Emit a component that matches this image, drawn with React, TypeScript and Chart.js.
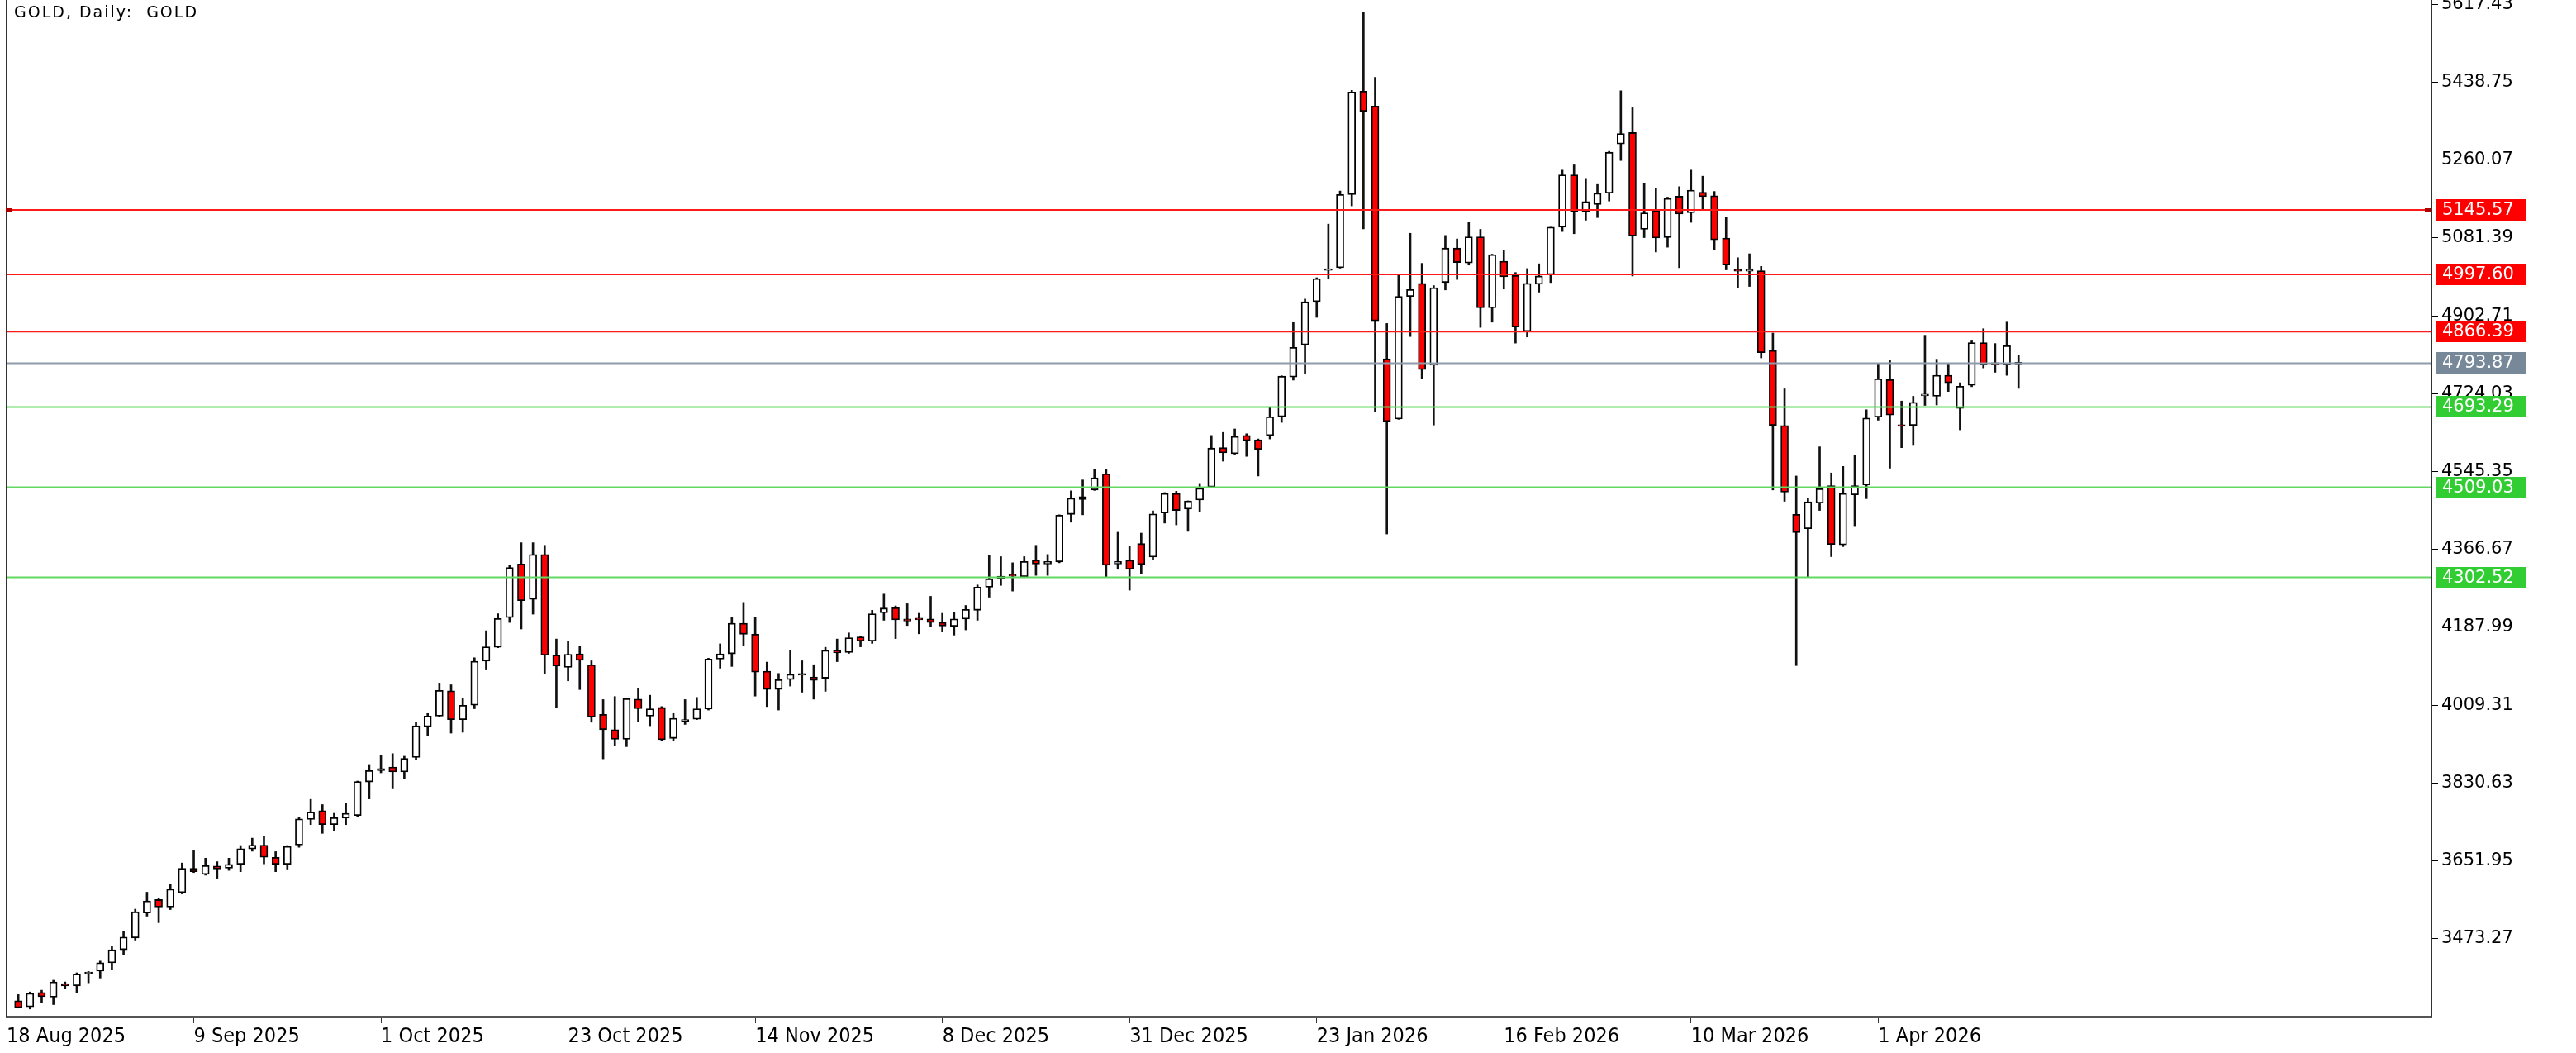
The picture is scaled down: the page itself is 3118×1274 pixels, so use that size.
import { useEffect, useRef } from 'react';
import { Chart, registerables } from 'chart.js';

Chart.register(...registerables);

// Daily candles, 19 Aug 2025 (bar 1) .. 17 Apr 2026 (bar 172); bar 0 = 18 Aug 2025 at the left edge
const opens = [
  3331, 3317, 3350, 3339, 3370, 3365, 3393, 3399, 3418, 3448,
  3475, 3532, 3563, 3546, 3579, 3635, 3621, 3640, 3635, 3644,
  3679, 3688, 3660, 3644, 3688, 3747, 3767, 3735, 3750, 3756,
  3833, 3859, 3867, 3856, 3889, 3960, 3984, 4042, 3976, 4009,
  4110, 4142, 4210, 4333, 4252, 4355, 4124, 4096, 4127, 4102,
  3988, 3953, 3931, 4023, 3984, 4004, 3933, 3972, 3977, 4000,
  4115, 4127, 4197, 4172, 4087, 4045, 4068, 4078, 4074, 4071,
  4134, 4130, 4166, 4156, 4221, 4233, 4207, 4206, 4207, 4199,
  4190, 4207, 4227, 4280, 4300, 4306, 4304, 4342, 4333, 4338,
  4447, 4488, 4503, 4540, 4333, 4342, 4380, 4349, 4450, 4495,
  4459, 4480, 4510, 4600, 4586, 4628, 4618, 4628, 4671, 4762,
  4836, 4935, 5007, 5013, 5181, 5418, 5384, 4804, 4666, 4947,
  4977, 4789, 4979, 5058, 5024, 5084, 4921, 5028, 4995, 4867,
  4975, 4997, 5106, 5226, 5142, 5158, 5184, 5297, 5323, 5101,
  5144, 5082, 5177, 5139, 5186, 5178, 5081, 5006, 5005, 5006,
  4823, 4651, 4447, 4414, 4473, 4513, 4377, 4492, 4514, 4670,
  4756, 4651, 4651, 4719, 4718, 4766, 4690, 4743, 4841, 4793,
  4790, 4792,
];
const highs = [
  3345, 3351, 3355, 3378, 3374, 3395, 3398, 3422, 3455, 3491,
  3541, 3580, 3566, 3599, 3647, 3675, 3658, 3650, 3658, 3687,
  3704, 3709, 3673, 3687, 3751, 3793, 3781, 3761, 3785, 3835,
  3873, 3895, 3898, 3892, 3971, 3990, 4060, 4056, 4024, 4118,
  4180, 4219, 4331, 4382, 4382, 4376, 4161, 4156, 4145, 4111,
  4022, 4029, 4026, 4047, 4032, 4006, 3990, 4022, 4027, 4117,
  4150, 4211, 4245, 4211, 4108, 4082, 4134, 4111, 4102, 4142,
  4161, 4175, 4168, 4227, 4264, 4237, 4242, 4220, 4259, 4220,
  4222, 4238, 4285, 4354, 4350, 4336, 4350, 4376, 4355, 4446,
  4501, 4526, 4551, 4551, 4406, 4373, 4404, 4455, 4497, 4500,
  4478, 4518, 4628, 4635, 4643, 4632, 4620, 4692, 4765, 4889,
  4941, 4990, 5113, 5189, 5420, 5598, 5450, 4885, 4997, 5092,
  5023, 4972, 5087, 5079, 5117, 5101, 5044, 5053, 5002, 5011,
  5022, 5106, 5237, 5249, 5218, 5204, 5280, 5419, 5380, 5207,
  5196, 5175, 5199, 5237, 5223, 5188, 5128, 5036, 5045, 5016,
  4863, 4735, 4535, 4483, 4602, 4542, 4557, 4582, 4687, 4794,
  4800, 4707, 4718, 4858, 4803, 4794, 4749, 4847, 4873, 4839,
  4890, 4813,
];
const lows = [
  3314, 3312, 3326, 3322, 3359, 3350, 3372, 3383, 3403, 3437,
  3470, 3525, 3510, 3540, 3576, 3625, 3619, 3612, 3630, 3627,
  3674, 3645, 3627, 3633, 3683, 3735, 3715, 3721, 3735, 3754,
  3794, 3854, 3819, 3840, 3883, 3939, 3982, 3945, 3947, 4001,
  4090, 4141, 4199, 4184, 4218, 4082, 4003, 4065, 4045, 3970,
  3886, 3917, 3914, 3972, 3962, 3928, 3927, 3965, 3976, 3998,
  4094, 4098, 4145, 4030, 4006, 3998, 4053, 4039, 4023, 4041,
  4109, 4128, 4143, 4151, 4204, 4162, 4192, 4173, 4190, 4177,
  4170, 4182, 4204, 4257, 4284, 4271, 4303, 4307, 4307, 4336,
  4429, 4446, 4502, 4303, 4321, 4273, 4311, 4343, 4427, 4423,
  4408, 4452, 4509, 4569, 4585, 4580, 4535, 4620, 4658, 4755,
  4770, 4899, 4988, 5012, 5155, 5102, 4683, 4402, 4665, 4855,
  4759, 4652, 4962, 4986, 5019, 4876, 4888, 4964, 4840, 4854,
  4957, 4979, 5096, 5091, 5122, 5128, 5166, 5259, 4994, 5082,
  5049, 5060, 5013, 5117, 5146, 5055, 5008, 4966, 4970, 4806,
  4503, 4477, 4100, 4303, 4456, 4350, 4373, 4419, 4483, 4663,
  4553, 4600, 4607, 4697, 4698, 4729, 4641, 4740, 4783, 4773,
  4766, 4736,
];
const closes = [
  3315, 3348, 3340, 3374, 3365, 3392, 3397, 3418, 3448, 3477,
  3535, 3560, 3546, 3587, 3635, 3627, 3641, 3633, 3644, 3680,
  3688, 3660, 3644, 3685, 3748, 3764, 3735, 3751, 3761, 3834,
  3859, 3864, 3856, 3887, 3962, 3984, 4043, 3976, 4009, 4110,
  4143, 4208, 4325, 4249, 4355, 4124, 4099, 4126, 4112, 3982,
  3953, 3931, 4024, 4001, 4001, 3930, 3979, 3976, 4001, 4115,
  4127, 4197, 4172, 4085, 4045, 4068, 4080, 4079, 4066, 4135,
  4129, 4164, 4156, 4219, 4232, 4205, 4202, 4205, 4199, 4191,
  4207, 4229, 4280, 4299, 4305, 4305, 4339, 4333, 4339, 4445,
  4484, 4481, 4531, 4330, 4339, 4321, 4332, 4448, 4495, 4456,
  4478, 4507, 4599, 4588, 4626, 4616, 4596, 4671, 4764, 4830,
  4935, 4988, 5009, 5181, 5416, 5372, 4891, 4660, 4947, 4963,
  4779, 4967, 5058, 5025, 5084, 4921, 5043, 4992, 4877, 4977,
  4994, 5106, 5226, 5142, 5165, 5184, 5278, 5321, 5086, 5139,
  5081, 5172, 5136, 5191, 5176, 5077, 5019, 5005, 5007, 4818,
  4651, 4498, 4405, 4476, 4506, 4378, 4495, 4513, 4668, 4758,
  4675, 4649, 4704, 4721, 4766, 4749, 4741, 4841, 4790, 4791,
  4834, 4793.87,
];

const xTickIdx = [0, 16, 32, 48, 64, 80, 96, 112, 128, 144, 160];
const xTickLabels = [
  '18 Aug 2025', '9 Sep 2025', '1 Oct 2025', '23 Oct 2025', '14 Nov 2025',
  '8 Dec 2025', '31 Dec 2025', '23 Jan 2026', '16 Feb 2026', '10 Mar 2026', '1 Apr 2026',
];
const yTickValues = [
  5617.43, 5438.75, 5260.07, 5081.39, 4902.71, 4724.03, 4545.35,
  4366.67, 4187.99, 4009.31, 3830.63, 3651.95, 3473.27,
];
const levelValues = [5145.57, 4997.6, 4866.39, 4793.87, 4693.29, 4509.03, 4302.52];
const levelKinds = ['res', 'res', 'res', 'bid', 'sup', 'sup', 'sup'];

const X_MAX = 207.3;
const Y_MIN = 3294.5;
const Y_MAX = 5627.3;

const lineColor: Record<string, string> = { res: '#ff1a1a', bid: '#8e9bab', sup: '#62d862' };
const boxColor: Record<string, string> = { res: '#ff0000', bid: '#778899', sup: '#32cd32' };

export default function App() {
  const ref = useRef<HTMLCanvasElement | null>(null);

  useEffect(() => {
    document.body.style.margin = '0';
    document.body.style.overflow = 'hidden';
    const canvas = ref.current;
    if (!canvas) return;

    const bars = opens.map((_, i) => i + 1);
    const bodies = bars.map((x, i) => ({ x, y: [opens[i], closes[i]] }));
    const wicks = bars.map((x, i) => ({ x, y: [lows[i], highs[i]] }));
    const bodyColors = bars.map((_, i) => (closes[i] >= opens[i] ? '#ffffff' : '#ff0000'));

    const levelSets: any[] = levelValues.map((v, k) => ({
      type: 'line',
      data: [{ x: 0, y: v }, { x: X_MAX, y: v }],
      borderColor: lineColor[levelKinds[k]],
      borderWidth: 2,
      pointRadius: 0,
      order: 0,
    }));

    const decor = {
      id: 'decor',
      afterDraw(chart: any) {
        const { ctx, chartArea, scales } = chart;
        const y = scales.y;
        ctx.save();
        // left frame line
        ctx.fillStyle = '#333';
        ctx.fillRect(chartArea.left - 1, 0, 2, chartArea.bottom);
        // markers on the 5145.57 line
        const yr = y.getPixelForValue(levelValues[0]);
        ctx.fillStyle = '#b00000';
        ctx.fillRect(chartArea.left - 1, yr - 2, 7, 4);
        ctx.fillRect(chartArea.right - 8, yr - 2, 7, 4);
        // price boxes
        ctx.font = '21px "DejaVu Sans"';
        ctx.textBaseline = 'middle';
        ctx.textAlign = 'left';
        levelValues.forEach((v, k) => {
          const py = Math.round(y.getPixelForValue(v));
          ctx.fillStyle = boxColor[levelKinds[k]];
          ctx.fillRect(chartArea.right + 6, py - 13, 108, 26);
          ctx.fillStyle = '#ffffff';
          ctx.fillText(v.toFixed(2), chartArea.right + 13, py + 1);
        });
        // title
        ctx.fillStyle = '#000';
        ctx.font = '19px "DejaVu Sans"';
        (ctx as any).letterSpacing = '2px';
        ctx.fillText('GOLD, Daily:  GOLD', 17, 16);
        ctx.restore();
      },
    };

    const chart = new Chart(canvas, {
      type: 'bar',
      data: {
        datasets: [
          ...levelSets,
          {
            type: 'bar',
            data: bodies as any,
            backgroundColor: bodyColors,
            borderColor: '#000',
            borderWidth: 1.8,
            borderSkipped: false,
            barThickness: 9,
            minBarLength: 2,
            grouped: false,
            order: 1,
          },
          {
            type: 'bar',
            data: wicks as any,
            backgroundColor: '#111',
            borderWidth: 0,
            barThickness: 2,
            grouped: false,
            order: 2,
          },
        ],
      },
      options: {
        responsive: false,
        animation: false,
        events: [],
        layout: { padding: { left: 8, top: 0, right: 0, bottom: 0 }, autoPadding: false } as any,
        plugins: { legend: { display: false }, tooltip: { enabled: false } },
        scales: {
          x: {
            type: 'linear',
            min: 0,
            max: X_MAX,
            offset: false,
            afterBuildTicks: (axis: any) => {
              axis.ticks = xTickIdx.map((v) => ({ value: v }));
            },
            afterFit: (scale: any) => {
              scale.height = 44;
              scale.paddingLeft = 0;
              scale.paddingRight = 0;
              scale.paddingTop = 0;
              scale.paddingBottom = 0;
            },
            grid: { display: true, drawOnChartArea: false, drawTicks: true, tickLength: 8, color: '#333', offset: false },
            border: { display: true, color: '#555', width: 3 },
            ticks: {
              autoSkip: false,
              maxRotation: 0,
              align: 'start',
              padding: 1,
              color: '#000',
              font: { family: "'Liberation Sans Narrow', 'DejaVu Sans Condensed', 'Liberation Sans', sans-serif", size: 25 },
              callback: (_v: any, i: number) => xTickLabels[i],
            },
          },
          y: {
            type: 'linear',
            position: 'right',
            min: Y_MIN,
            max: Y_MAX,
            afterBuildTicks: (axis: any) => {
              axis.ticks = yTickValues.map((v) => ({ value: v }));
            },
            afterFit: (scale: any) => {
              scale.width = 175;
              scale.paddingTop = 0;
              scale.paddingBottom = 0;
              scale.paddingLeft = 0;
              scale.paddingRight = 0;
            },
            grid: { display: true, drawOnChartArea: false, drawTicks: true, tickLength: 8, color: '#000' },
            border: { display: true, color: '#333', width: 2 },
            ticks: {
              autoSkip: false,
              padding: 4,
              color: '#000',
              font: { family: '"DejaVu Sans"', size: 21 },
              callback: (v: any) => Number(v).toFixed(2),
            },
          },
        },
      },
      plugins: [decor],
    } as any);

    return () => chart.destroy();
  }, []);

  return (
    <div style={{ width: 3118, height: 1274, background: '#fff' }}>
      <canvas ref={ref} width={3118} height={1274} style={{ display: 'block', width: 3118, height: 1274 }} />
    </div>
  );
}
